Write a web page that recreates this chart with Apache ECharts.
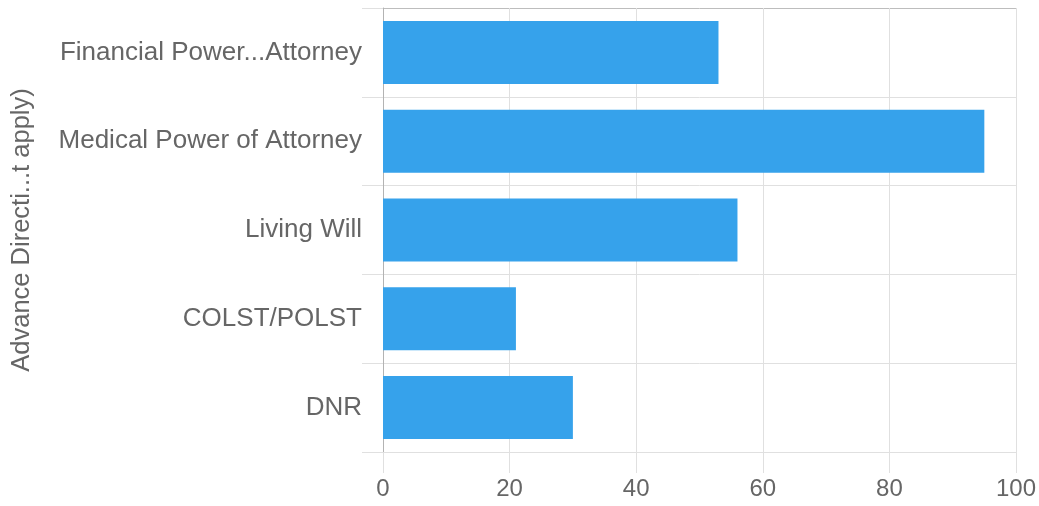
<!DOCTYPE html>
<html>
<head>
<meta charset="utf-8">
<script src="https://cdn.jsdelivr.net/npm/echarts@6/dist/echarts.min.js"></script>
<style>
    html, body { margin: 0; padding: 0; background: #fff; }
    #chart { width: 1039px; height: 506px; }
</style>
</head>
<body>
<div id="chart"></div>
<script>
// 数据
const categories = ['Financial Power...Attorney', 'Medical Power of Attorney', 'Living Will', 'COLST/POLST', 'DNR'];
const counts = [53, 95, 56, 21, 30];
const axisTitle = 'Advance Directi...t apply)';

const myChart = echarts.init(document.getElementById('chart'));
myChart.setOption({
    animation: false,
    textStyle: { fontFamily: 'Liberation Sans, Arial, sans-serif' },
    grid: { left: 383, right: 22, top: 8, bottom: 54 },
    xAxis: {
        type: 'value',
        min: 0,
        max: 100,
        interval: 20,
        axisLine: { show: true, lineStyle: { color: '#e0e0e0' } },
        axisTick: { show: true, length: 21, lineStyle: { color: '#e0e0e0' } },
        axisLabel: { color: '#666', fontSize: 24, margin: 25 },
        splitLine: { show: true, lineStyle: { color: '#e0e0e0' } },
    },
    yAxis: {
        type: 'category',
        data: categories,
        inverse: true,
        name: axisTitle,
        nameLocation: 'middle',
        nameGap: 348,
        nameTextStyle: { color: '#666', fontSize: 25.5 },
        axisLine: { show: true, lineStyle: { color: '#b3b3b3' } },
        axisTick: { show: true, length: 21, lineStyle: { color: '#e0e0e0' } },
        axisLabel: { color: '#666', fontSize: 26, margin: 21 },
        splitLine: {
            show: true,
            lineStyle: { color: ['#bdbdbd', '#e0e0e0', '#e0e0e0', '#e0e0e0', '#e0e0e0', '#e0e0e0'] },
        },
    },
    series: [
        {
            type: 'bar',
            data: counts,
            barCategoryGap: '29%',
            itemStyle: { color: '#36a2eb' },
        },
    ],
});
</script>
</body>
</html>
